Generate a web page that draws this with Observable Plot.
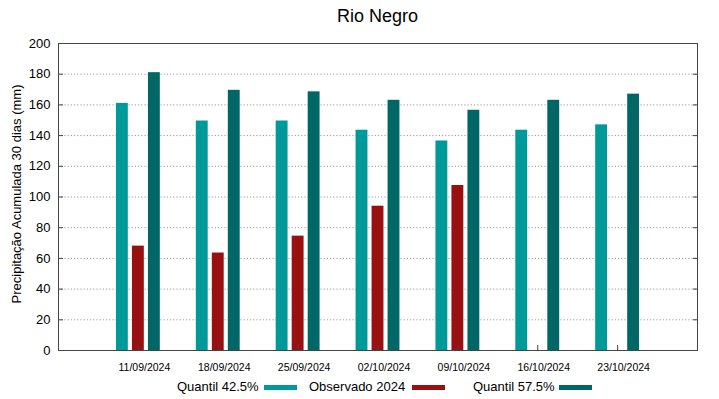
<!DOCTYPE html>
<html>
<head>
<meta charset="utf-8">
<script src="https://cdn.jsdelivr.net/npm/d3@7"></script>
<script src="https://cdn.jsdelivr.net/npm/@observablehq/plot@0.6"></script>
<style>
  html, body { margin: 0; padding: 0; background: #fff; }
  body { width: 719px; height: 399px; position: relative; overflow: hidden; font-family: "Liberation Sans", Arial, sans-serif; color: #000; }
  #title { position: absolute; left: 58px; width: 639px; top: 4px; text-align: center; font-size: 18px; line-height: 24px; }
  #chart { position: absolute; left: 0; top: 30px; }
  #legend { position: absolute; left: 0; top: 378px; width: 719px; height: 20px; font-size: 13px; }
  #legend span.t { position: absolute; top: 0; line-height: 18px; white-space: nowrap; }
  #legend span.s { position: absolute; top: 7px; width: 33px; height: 5px; }
</style>
</head>
<body>
<div id="title">Rio Negro</div>
<div id="chart"></div>
<div id="legend"></div>
<script>
// ---- data ----
const dates = ["11/09/2024", "18/09/2024", "25/09/2024", "02/10/2024", "09/10/2024", "16/10/2024", "23/10/2024"];
const quantil425 = [161, 149.5, 149.5, 143.5, 136.5, 143.5, 147];
const observado2024 = [68, 63.5, 74.5, 94, 107.5, null, null];
const quantil575 = [181, 169.5, 168.5, 163, 156.5, 163, 167];
const yTicks = [0, 20, 40, 60, 80, 100, 120, 140, 160, 180, 200];
const seriesNames = ["Quantil 42.5%", "Observado 2024", "Quantil 57.5%"];
const seriesColors = ["#009999", "#991010", "#006666"];
const yLabel = "Precipitação Acumulada 30 dias (mm)";

// ---- build table ----
const rows = (vals) => dates.map((d, i) => ({date: d, value: vals[i]})).filter(r => r.value != null);
const tQ425 = rows(quantil425);
const tObs = rows(observado2024);
const tQ575 = rows(quantil575);
const gridVals = yTicks.filter(v => v > 0 && v < 200);

const plot = Plot.plot({
  width: 719,
  height: 345,
  marginLeft: 58,
  marginRight: 22,
  marginTop: 13,
  marginBottom: 25,
  style: {fontFamily: "Liberation Sans, Arial, sans-serif", background: "#fff", color: "#000", overflow: "visible"},
  x: {type: "band", domain: dates, paddingInner: 0, paddingOuter: 0.5, round: false},
  y: {domain: [0, 200]},
  marks: [
    Plot.ruleY(gridVals, {stroke: "#9a9a9a", strokeDasharray: "1.2,2", strokeWidth: 1}),
    Plot.barY(tQ425, {x: "date", y: "value", fill: seriesColors[0], insetLeft: 18, insetRight: 50}),
    Plot.barY(tObs, {x: "date", y: "value", fill: seriesColors[1], insetLeft: 34, insetRight: 34}),
    Plot.barY(tQ575, {x: "date", y: "value", fill: seriesColors[2], insetLeft: 50, insetRight: 18}),
    Plot.frame({stroke: "#444", strokeWidth: 1}),
    Plot.axisY({anchor: "left", ticks: yTicks, tickSize: -5, tickPadding: 13, fontSize: 13, label: null, stroke: "#444"}),
    Plot.axisY({anchor: "right", ticks: yTicks, tickSize: -5, tickFormat: () => "", label: null, stroke: "#444"}),
    Plot.axisX({anchor: "bottom", tickSize: -5, tickFormat: () => "", label: null, stroke: "#444"}),
    Plot.axisX({anchor: "bottom", tickSize: 0, tickPadding: 13, fontSize: 10.5, dx: 6, label: null}),
    Plot.text([yLabel], {text: d => d, frameAnchor: "left", textAnchor: "middle", lineAnchor: "middle", dx: -42, dy: -3, rotate: -90, fontSize: 13, fill: "#000"})
  ]
});
document.getElementById("chart").appendChild(plot);

// ---- legend ----
const legend = document.getElementById("legend");
const textLeft = [177, 309, 473];
const swatchLeft = [264, 412, 559];
seriesNames.forEach((name, i) => {
  const t = document.createElement("span");
  t.className = "t";
  t.style.left = textLeft[i] + "px";
  t.textContent = name;
  legend.appendChild(t);
  const s = document.createElement("span");
  s.className = "s";
  s.style.left = swatchLeft[i] + "px";
  s.style.background = seriesColors[i];
  legend.appendChild(s);
});
</script>
</body>
</html>
